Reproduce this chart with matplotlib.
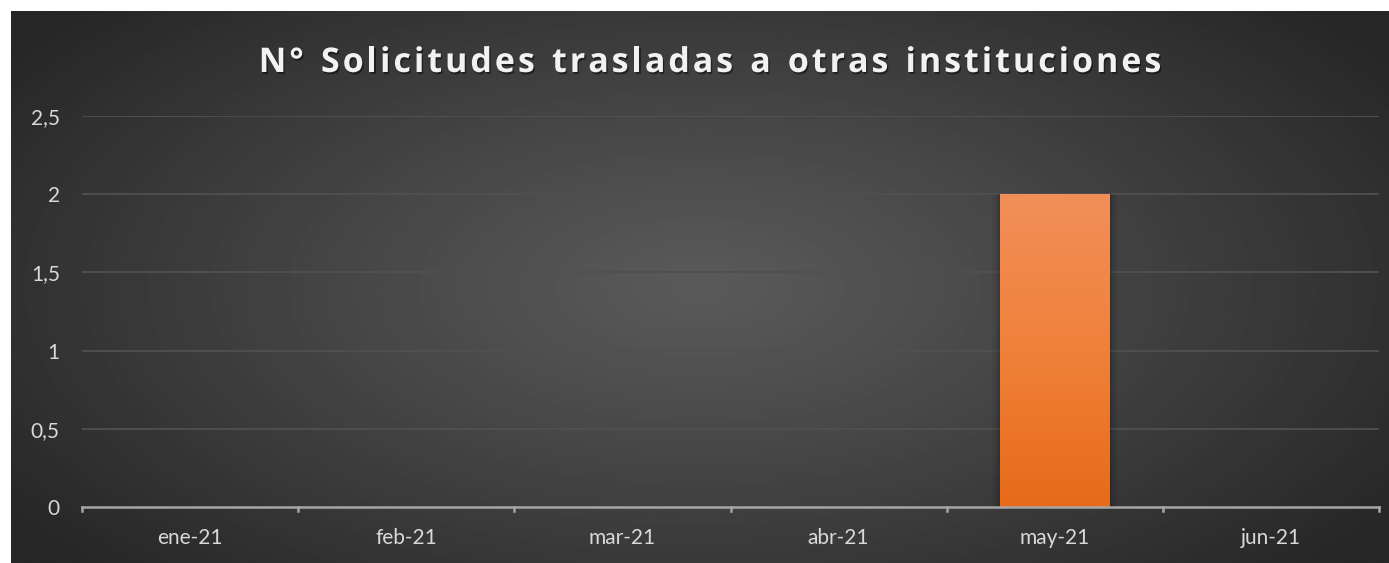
import numpy as np
import matplotlib.pyplot as plt
from matplotlib import patheffects as pe
from matplotlib.patches import Rectangle
from matplotlib.colors import LinearSegmentedColormap

months = ['ene-21', 'feb-21', 'mar-21', 'abr-21', 'may-21', 'jun-21']
values = [0, 0, 0, 0, 2, 0]
yticks = [0, 0.5, 1, 1.5, 2, 2.5]
ytick_labels = ['0', '0,5', '1', '1,5', '2', '2,5']
title = 'N° Solicitudes trasladas a otras instituciones'

W, H = 1389, 563
fig = plt.figure(figsize=(W / 100, H / 100), dpi=100)
fig.patch.set_facecolor('white')

# fondo oscuro con degradado radial
x0, y1 = 11 / W, 1 - 11 / H
bg = fig.add_axes([x0, 0, 1 - x0, y1])
bg.set_axis_off()
yy, xx = np.mgrid[0:1:300j, 0:1:700j]
r = np.sqrt(((xx - 0.5) / 0.62) ** 2 + ((yy - 0.5) / 0.75) ** 2)
r = np.clip(r, 0, 1)
light, dark = 0x5a / 255, 0x26 / 255
img = light + (dark - light) * r ** 1.1
bg.imshow(img, cmap='gray', vmin=0, vmax=1, aspect='auto', extent=[0, 1, 0, 1])
bg.set_xlim(0, 1)
bg.set_ylim(0, 1)

ax = fig.add_axes([82 / W, 56 / H, 1297 / W, 391 / H])
ax.patch.set_alpha(0)
x = np.arange(len(months))

bars = ax.bar(x, values, width=0.505, color='#ee7a30', zorder=3)
# degradado del naranja
grad = np.linspace(0, 1, 256).reshape(-1, 1)
cm = LinearSegmentedColormap.from_list('o', ['#e76a19', '#f0813a', '#f28f59'])
for b in bars:
    h = b.get_height()
    if h <= 0:
        continue
    bx, bw = b.get_x(), b.get_width()
    # sombra suave
    for k, a in enumerate([0.10, 0.07, 0.04]):
        d = 0.012 * (k + 1)
        ax.add_patch(Rectangle((bx - d, 0), bw + 2 * d, h + d * 0.1,
                               color='black', alpha=a, zorder=2, lw=0))
    im = ax.imshow(grad, cmap=cm, aspect='auto', origin='lower',
                   extent=[bx, bx + bw, 0, h], zorder=4)
    im.set_clip_path(b)

ax.set_xlim(-0.5, len(months) - 0.5)
ax.set_ylim(0, 2.5)
ax.set_yticks(yticks)
ax.set_yticklabels(ytick_labels)
ax.set_xticks(x)
ax.set_xticklabels(months)
ax.tick_params(axis='both', length=0, labelsize=15, labelcolor='#d9d9d9')
ax.tick_params(axis='x', pad=15)
ax.tick_params(axis='y', pad=16)
for lab in ax.get_xticklabels() + ax.get_yticklabels():
    lab.set_fontfamily(['Lato', 'DejaVu Sans'])

for v in yticks[1:]:
    ax.axhline(v, color='#505050', lw=1.3, zorder=1)
for s in ['top', 'right', 'left']:
    ax.spines[s].set_visible(False)
ax.spines['bottom'].set_color('#a6a6a6')
ax.spines['bottom'].set_linewidth(1.8)
ax.spines['bottom'].set_zorder(5)
for b in np.arange(-0.5, len(months), 1):
    ax.plot([b, b], [0, -0.025], color='#a6a6a6', lw=1.8, clip_on=False, zorder=5)

# título con espaciado entre letras
renderer = fig.canvas.get_renderer()
fs = 24.5
spacing = 3.0
widths = []
for ch in title:
    t = fig.text(0, 0, ch if ch != ' ' else 'a', fontsize=fs, fontweight='bold',
                 family=['Open Sans', 'DejaVu Sans'])
    w = t.get_window_extent(renderer).width
    if ch == ' ':
        w *= 0.55
    widths.append(w)
    t.remove()
total = sum(widths) + spacing * (len(title) - 1)
xpos = 710 - total / 2
for ch, w in zip(title, widths):
    if ch != ' ':
        fig.text(xpos / W, 1 - 63 / H, ch, fontsize=fs, fontweight='bold',
                 family=['Open Sans', 'DejaVu Sans'], color='#f2f2f2',
                 va='center', ha='left',
                 path_effects=[pe.withSimplePatchShadow(offset=(1, -1.5), shadow_rgbFace='black', alpha=0.45)])
    xpos += w + spacing

fig.savefig('out.png', dpi=100, facecolor=fig.get_facecolor())
